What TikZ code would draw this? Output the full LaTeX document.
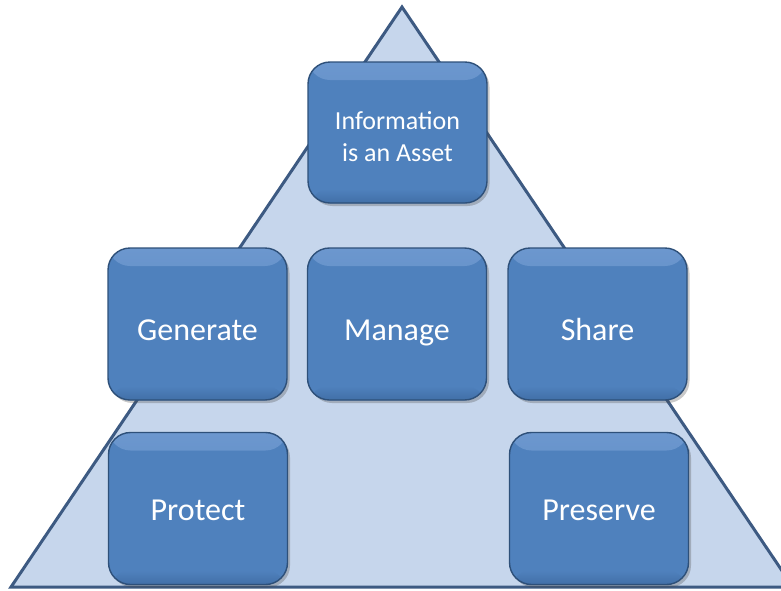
\documentclass[tikz,border=0pt]{standalone}
\usepackage{fontspec}
\setmainfont{Carlito}
\usetikzlibrary{shadows,calc}
\definecolor{boxblue}{HTML}{4F81BD}
\definecolor{boxedge}{HTML}{2E5079}
\definecolor{boxtop}{HTML}{6C97CE}
\definecolor{boxbot}{HTML}{416FA7}
\definecolor{trifill}{HTML}{C6D6EC}
\definecolor{triedge}{HTML}{3D5A82}
\tikzset{
  assetbox/.style={rounded corners=22pt, fill=boxblue, draw=boxedge, line width=1.4pt,
    minimum width=179pt, minimum height=152pt, inner sep=0pt, text=white,
    font=\fontsize{32}{38}\selectfont, align=center,
    drop shadow={shadow xshift=2.5pt, shadow yshift=-3pt, opacity=0.3, fill=black!70},
    path picture={
      \fill[top color=boxtop, bottom color=boxblue]
        (path picture bounding box.north west) rectangle
        ($(path picture bounding box.north east)+(0,-18pt)$);
      \fill[top color=boxblue, bottom color=boxbot]
        ($(path picture bounding box.south west)+(0,14pt)$) rectangle
        (path picture bounding box.south east);
    }},
  basealign/.style={text height=#1, text depth=0pt},
  triangle/.style={fill=trifill, draw=triedge, line width=3pt, line join=miter}
}
\begin{document}
\begin{tikzpicture}[x=1pt,y=-1pt]
\useasboundingbox (0,0) rectangle (781,590);
\begin{scope}
\clip (0,0) rectangle (781,590);
\coordinate (apex) at (402,7);
\coordinate (bl) at (11,587);
\coordinate (br) at (793,587);
\draw[triangle] (apex) -- (bl) -- (br) -- cycle;
\end{scope}
\node[assetbox, minimum height=141pt, font=\fontsize{26}{33}\selectfont] (info) at (397.5,132.5)
  {\raisebox{-6pt}[\height][\depth]{\begin{tabular}{@{}c@{}}Information\\[-1pt]is an Asset\end{tabular}}};
\node[assetbox, basealign=33pt] (generate) at (197.5,324) {Generate};
\node[assetbox, basealign=33pt] (manage) at (397,324) {Manage};
\node[assetbox, basealign=33pt] (share) at (597.5,324) {Share};
\node[assetbox, basealign=23pt] (protect) at (198,508.5) {Protect};
\node[assetbox, basealign=23pt] (preserve) at (599,508.5) {Preserve};
\end{tikzpicture}
\end{document}
